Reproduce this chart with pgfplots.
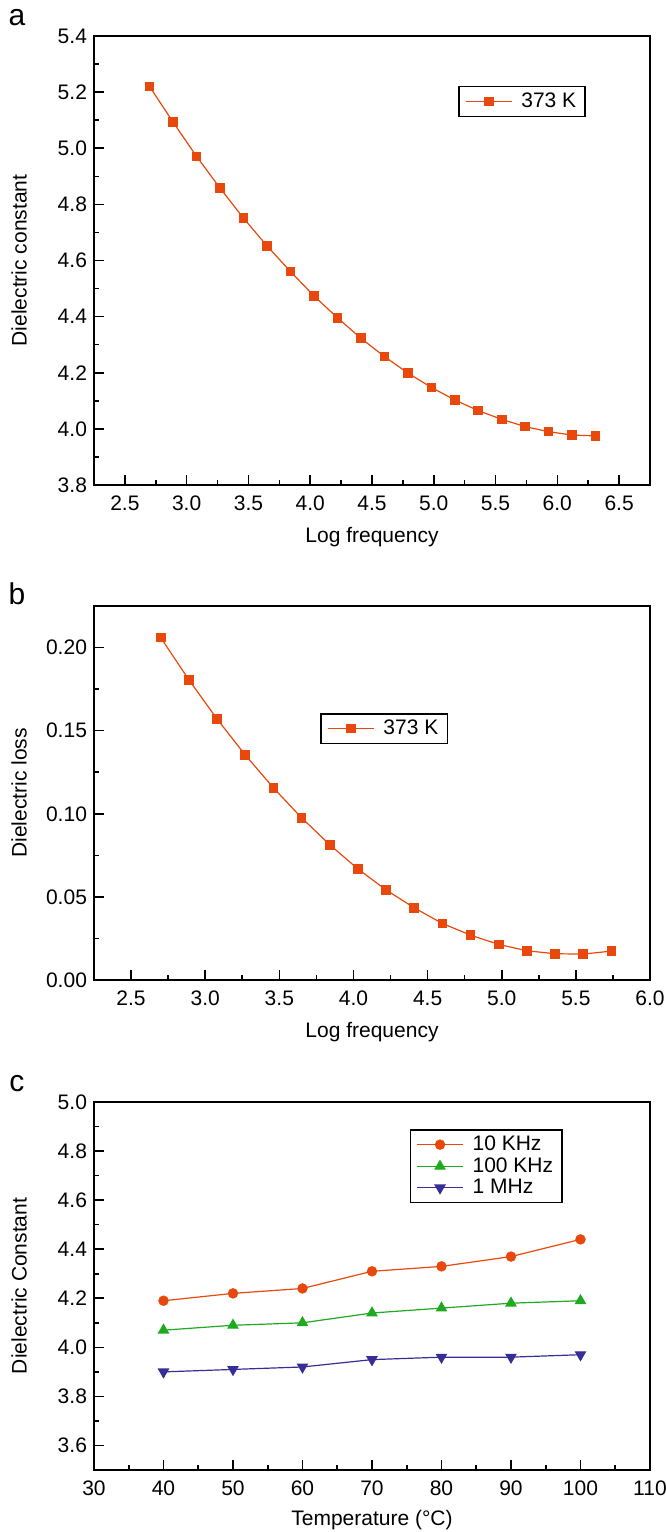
\documentclass[border=0pt]{standalone}
\usepackage{fontspec}
\setmainfont{Liberation Sans}
\usepackage{pgfplots}
\pgfplotsset{compat=1.18}
\definecolor{cor}{RGB}{232,72,12}
\definecolor{cgr}{RGB}{30,170,30}
\definecolor{cbl}{RGB}{55,45,150}
\newcommand{\fs}{\fontsize{10.5}{12}\selectfont}
\pgfplotsset{
  mystyle/.style={
    scale only axis, width=278pt,
    axis line style={line width=0.9pt, black},
    tick pos=left, tick align=inside,
    major tick length=5pt, minor tick length=2.5pt,
    every tick/.style={black, line width=0.8pt},
    minor x tick num=1, minor y tick num=1,
    tick label style={font=\fs},
    xticklabel style={yshift=-2pt},
    label style={font=\fs},
    /pgf/number format/assume math mode=true,
    ylabel style={at={(axis description cs:-0.1345,0.5)}, anchor=center},
    xlabel style={at={(axis description cs:0.5,0)}, anchor=center, yshift=-26pt},
    legend style={font=\fs, draw=black, line width=0.8pt, inner xsep=3pt, inner ysep=1.5pt, row sep=-1pt,
      nodes={inner sep=1.5pt},
      /tikz/every odd column/.append style={column sep=3pt}},
    legend cell align=left,
    legend image code/.code={%
      \draw[#1, mark=none] (-11.5pt,0pt) -- (11.5pt,0pt);
      \draw[#1, only marks] plot coordinates {(0pt,0pt)};},
  }
}
\begin{document}
\begin{tikzpicture}
\useasboundingbox (0,0) rectangle (332.5pt,-766pt);
% panel a
\begin{axis}[mystyle, at={(47pt,-242.5pt)}, anchor=south west, height=224.5pt,
  xmin=2.25, xmax=6.75, ymin=3.8, ymax=5.4,
  xtick={2.5,3.0,...,6.5}, ytick={3.8,4.0,...,5.4},
  xticklabel style={/pgf/number format/.cd, fixed, fixed zerofill, precision=1},
  yticklabel style={/pgf/number format/.cd, fixed, fixed zerofill, precision=1},
  xlabel={Log frequency}, ylabel={Dielectric constant},
  legend style={at={(0.885,0.889)}, anchor=north east}]
\addplot[cor, line width=0.6pt, mark=square*, mark size=2.1pt, mark options={fill=cor, draw=cor}] coordinates {
(2.70,5.220) (2.89,5.093) (3.08,4.971) (3.27,4.858) (3.46,4.751) (3.65,4.652) (3.84,4.561)
(4.03,4.474) (4.22,4.396) (4.41,4.323) (4.60,4.258) (4.79,4.199) (4.98,4.148) (5.17,4.103)
(5.36,4.065) (5.55,4.034) (5.74,4.008) (5.93,3.990) (6.12,3.978) (6.31,3.975)};
\addlegendentry{373 K}
\end{axis}
% panel b
\begin{axis}[mystyle, at={(47pt,-490pt)}, anchor=south west, height=187pt,
  xmin=2.25, xmax=6.0, ymin=0, ymax=0.225,
  xtick={2.5,3.0,...,6.0}, ytick={0,0.05,0.10,0.15,0.20},
  xticklabel style={/pgf/number format/.cd, fixed, fixed zerofill, precision=1},
  yticklabel style={/pgf/number format/.cd, fixed, fixed zerofill, precision=2},
  xlabel={Log frequency}, ylabel={Dielectric loss},
  legend style={at={(0.637,0.714)}, anchor=north east}]
\addplot[cor, line width=0.6pt, mark=square*, mark size=2.1pt, mark options={fill=cor, draw=cor}] coordinates {
(2.70,0.2060) (2.89,0.1806) (3.08,0.1570) (3.27,0.1354) (3.46,0.1156) (3.65,0.0976)
(3.84,0.0814) (4.03,0.0668) (4.22,0.0542) (4.41,0.0434) (4.60,0.0340) (4.79,0.0270)
(4.98,0.0214) (5.17,0.0176) (5.36,0.0158) (5.55,0.0156) (5.74,0.0174)};
\addlegendentry{373 K}
\end{axis}
% panel c
\begin{axis}[mystyle, at={(47pt,-735pt)}, anchor=south west, height=184pt,
  xmin=30, xmax=110, ymin=3.5, ymax=5.0,
  xtick={30,40,...,110}, ytick={3.6,3.8,...,5.0},
  yticklabel style={/pgf/number format/.cd, fixed, fixed zerofill, precision=1},
  xlabel={Temperature (°C)}, ylabel={Dielectric Constant},
  xlabel style={yshift=1pt},
  legend style={at={(0.8435,0.9266)}, anchor=north east}]
\addplot[cor, line width=0.6pt, mark=*, mark size=2.3pt, mark options={fill=cor, draw=cor}] coordinates {
(40,4.19) (50,4.22) (60,4.24) (70,4.31) (80,4.33) (90,4.37) (100,4.44)};
\addlegendentry{10 KHz}
\addplot[cgr, line width=0.6pt, mark=triangle*, mark size=2.8pt, mark options={fill=cgr, draw=cgr}] coordinates {
(40,4.07) (50,4.09) (60,4.10) (70,4.14) (80,4.16) (90,4.18) (100,4.19)};
\addlegendentry{100 KHz}
\addplot[cbl, line width=0.6pt, mark=triangle*, mark size=2.8pt, mark options={fill=cbl, draw=cbl, rotate=180}] coordinates {
(40,3.90) (50,3.91) (60,3.92) (70,3.95) (80,3.96) (90,3.96) (100,3.97)};
\addlegendentry{1 MHz}
\end{axis}
\node[font=\fontsize{15}{18}\selectfont] at (8.5pt,-9pt) {a};
\node[font=\fontsize{15}{18}\selectfont] at (8.5pt,-297pt) {b};
\node[font=\fontsize{15}{18}\selectfont] at (8.5pt,-542pt) {c};
\end{tikzpicture}
\end{document}
